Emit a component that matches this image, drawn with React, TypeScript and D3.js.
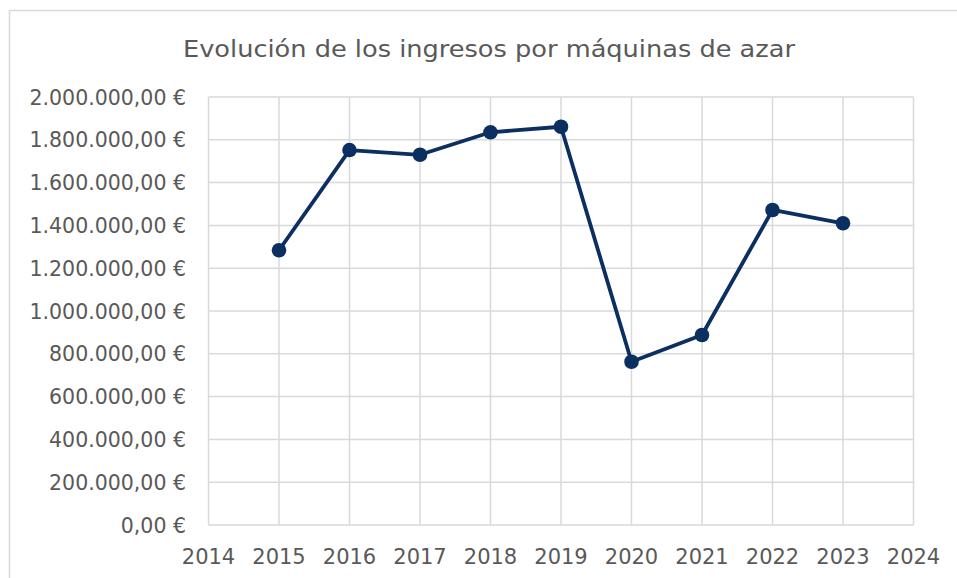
import React from "react";
import * as d3 from "d3";

const years = [2015, 2016, 2017, 2018, 2019, 2020, 2021, 2022, 2023];
const ingresos = [1284000, 1752000, 1730000, 1835000, 1861000, 763000, 888000, 1472000, 1410000];
const xTicks = [2014, 2015, 2016, 2017, 2018, 2019, 2020, 2021, 2022, 2023, 2024];
const yTicks = [0, 200000, 400000, 600000, 800000, 1000000, 1200000, 1400000, 1600000, 1800000, 2000000];
const title = "Evolución de los ingresos por máquinas de azar";

const W = 957;
const H = 578;
const FONT = "'DejaVu Sans', sans-serif";

const fmt = (v: number) => {
  const s = d3.format(",.2f")(v);
  return s.replace(/,/g, "#").replace(".", ",").replace(/#/g, ".") + " €";
};

export default function App() {
  const x = d3.scaleLinear().domain([2014, 2024]).range([208.5, 913.5]);
  const y = d3.scaleLinear().domain([0, 2000000]).range([525, 97]);
  const line = d3
    .line<number>()
    .x((_, i) => x(years[i]))
    .y((d) => y(d));
  const grid = "#d9d9d9";
  const text = "#595959";
  const color = "#0b2f60";
  return (
    <svg
      width={W}
      height={H}
      style={{ position: "absolute", left: 0, top: 0, background: "#fff" }}
    >
      <rect x={0} y={0} width={W} height={H} fill="#fff" />
      <rect x={9.5} y={10.5} width={W + 20} height={H + 20} fill="#fff" stroke={grid} strokeWidth={1.5} />
      <text x={489} y={57} textAnchor="middle" fontFamily={FONT} fontSize={23} fill={text} textLength={612} lengthAdjust="spacingAndGlyphs">
        {title}
      </text>
      {yTicks.map((t) => (
        <line key={"h" + t} x1={x(2014)} x2={x(2024)} y1={y(t)} y2={y(t)} stroke={grid} strokeWidth={1.5} />
      ))}
      {xTicks.map((t) => (
        <line key={"v" + t} x1={x(t)} x2={x(t)} y1={y(2000000)} y2={y(0)} stroke={grid} strokeWidth={1.5} />
      ))}
      {yTicks.map((t) => (
        <text key={"yl" + t} x={186} y={y(t) + 7.5} textAnchor="end" fontFamily={FONT} fontSize={20.5} fill={text}>
          {fmt(t)}
        </text>
      ))}
      {xTicks.map((t) => (
        <text key={"xl" + t} x={x(t)} y={564} textAnchor="middle" fontFamily={FONT} fontSize={21} fill={text}>
          {t}
        </text>
      ))}
      <path d={line(ingresos) || ""} fill="none" stroke={color} strokeWidth={3.8} strokeLinejoin="round" />
      {ingresos.map((v, i) => (
        <circle key={"p" + i} cx={x(years[i])} cy={y(v)} r={7.3} fill={color} />
      ))}
    </svg>
  );
}
